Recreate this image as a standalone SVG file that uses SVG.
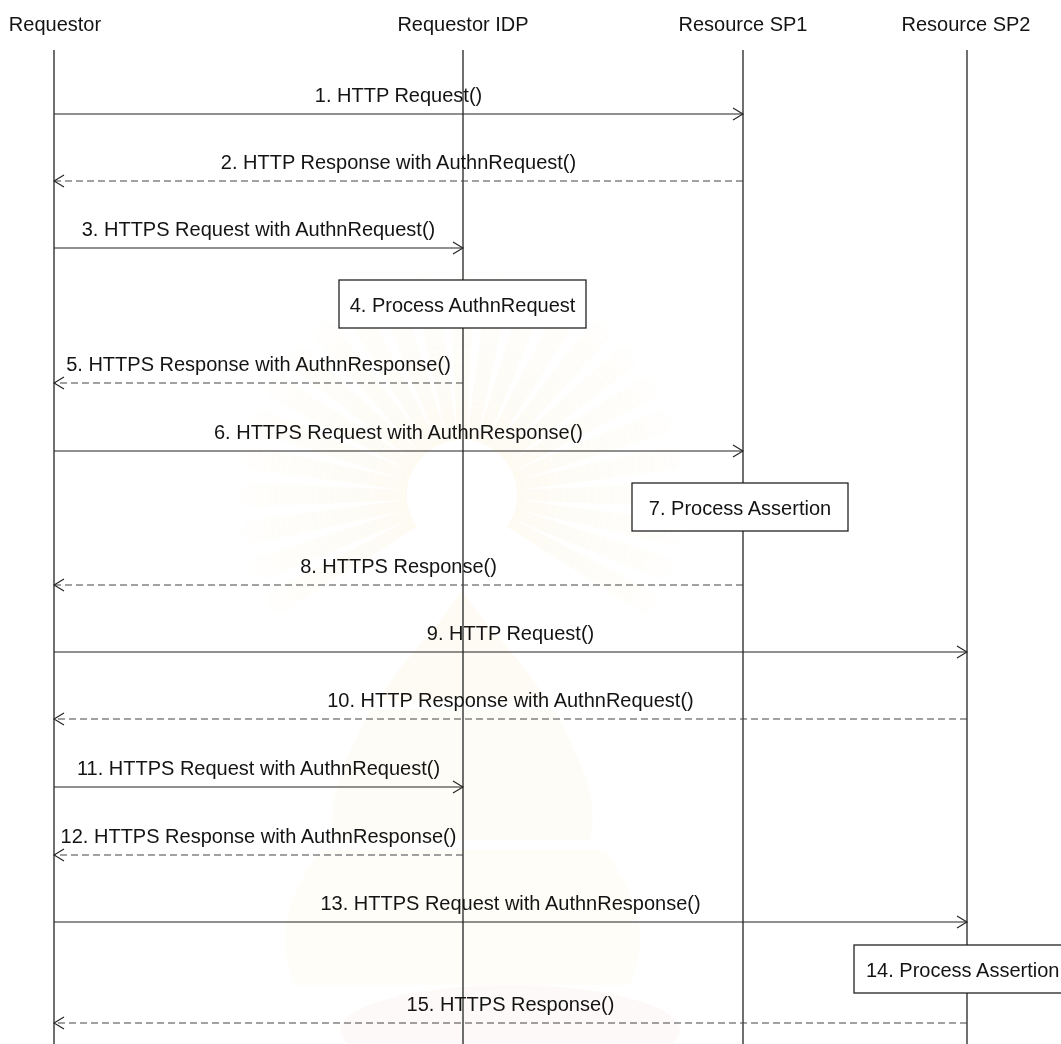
<svg xmlns="http://www.w3.org/2000/svg" xmlns:xlink="http://www.w3.org/1999/xlink" width="1061" height="1044" viewBox="0 0 1061 1044">
  <style>
    text { font-family: "Liberation Sans", Arial, sans-serif; font-size: 20px; fill: #141414; }
    .title { text-anchor: middle; }
    .msg { text-anchor: middle; }
    .lifeline { stroke: #222; stroke-width: 1.3; fill: none; }
    .call { stroke: #222; stroke-width: 1.2; fill: none; marker-end: url(#open); }
    .reply { stroke: #444; stroke-width: 1.2; fill: none; stroke-dasharray: 7 4; marker-end: url(#open); }
    .box rect { fill: #fff; stroke: #222; stroke-width: 1.3; }
    .ray { fill: url(#rayFill); }
  </style>
  <defs>
    <marker id="open" viewBox="0 0 12 14" refX="11" refY="7" markerWidth="12" markerHeight="14" markerUnits="userSpaceOnUse" orient="auto">
      <path d="M1,1 L11,7 L1,13" fill="none" stroke="#222" stroke-width="1.2"/>
    </marker>
    <linearGradient id="rayFill" x1="0" y1="1" x2="0" y2="0">
      <stop offset="0" stop-color="#f3e4b0" stop-opacity="0.55"/>
      <stop offset="1" stop-color="#f8efd2" stop-opacity="0.2"/>
    </linearGradient>
    <path id="ray" d="M-5,-55 L-12,-215 Q0,-232 12,-215 L5,-55 Z"/>
  </defs>

  <rect width="1061" height="1044" fill="#fff"/>

  <!-- faint emblem watermark behind the chart -->
  <g id="watermark" opacity="0.3">
    <g class="ray" transform="translate(462,495)">
      <use xlink:href="#ray" transform="rotate(-120)"/>
      <use xlink:href="#ray" transform="rotate(-110)"/>
      <use xlink:href="#ray" transform="rotate(-100)"/>
      <use xlink:href="#ray" transform="rotate(-90)"/>
      <use xlink:href="#ray" transform="rotate(-80)"/>
      <use xlink:href="#ray" transform="rotate(-70)"/>
      <use xlink:href="#ray" transform="rotate(-60)"/>
      <use xlink:href="#ray" transform="rotate(-50)"/>
      <use xlink:href="#ray" transform="rotate(-40)"/>
      <use xlink:href="#ray" transform="rotate(-30)"/>
      <use xlink:href="#ray" transform="rotate(-20)"/>
      <use xlink:href="#ray" transform="rotate(-10)"/>
      <use xlink:href="#ray" transform="rotate(0)"/>
      <use xlink:href="#ray" transform="rotate(10)"/>
      <use xlink:href="#ray" transform="rotate(20)"/>
      <use xlink:href="#ray" transform="rotate(30)"/>
      <use xlink:href="#ray" transform="rotate(40)"/>
      <use xlink:href="#ray" transform="rotate(50)"/>
      <use xlink:href="#ray" transform="rotate(60)"/>
      <use xlink:href="#ray" transform="rotate(70)"/>
      <use xlink:href="#ray" transform="rotate(80)"/>
      <use xlink:href="#ray" transform="rotate(90)"/>
      <use xlink:href="#ray" transform="rotate(100)"/>
      <use xlink:href="#ray" transform="rotate(110)"/>
      <use xlink:href="#ray" transform="rotate(120)"/>
    </g>
    <!-- tiered crown body -->
    <path d="M462,590 C430,640 400,660 380,700 L545,700 C525,660 495,640 462,590 Z" fill="#f6ecc6" opacity="0.6"/>
    <path d="M370,710 L555,710 C580,760 600,800 590,840 L335,840 C325,800 345,760 370,710 Z" fill="#f6ecc6" opacity="0.45"/>
    <path d="M320,850 L605,850 C640,900 650,940 630,985 L295,985 C275,940 285,900 320,850 Z" fill="#f6ecc6" opacity="0.4"/>
    <ellipse cx="510" cy="1030" rx="170" ry="45" fill="#f8e3e0" opacity="0.6"/>
  </g>

  <!-- participant headers and lifelines -->
  <g id="requestor">
    <text class="title" x="55" y="31">Requestor</text>
    <line class="lifeline" x1="54" y1="50" x2="54" y2="1044"/>
  </g>
  <g id="requestor-idp">
    <text class="title" x="463" y="31">Requestor IDP</text>
    <line class="lifeline" x1="463" y1="50" x2="463" y2="1044" stroke="#333"/>
  </g>
  <g id="resource-sp1">
    <text class="title" x="743" y="31">Resource SP1</text>
    <line class="lifeline" x1="743" y1="50" x2="743" y2="1044"/>
  </g>
  <g id="resource-sp2">
    <text class="title" x="966" y="31">Resource SP2</text>
    <line class="lifeline" x1="967" y1="50" x2="967" y2="1044"/>
  </g>

  <!-- messages -->
  <g id="connectors">
    <line class="call" x1="54" y1="114" x2="743" y2="114"/>
    <text class="msg" x="398.5" y="102">1. HTTP Request()</text>

    <line class="reply" x1="743" y1="181" x2="54" y2="181"/>
    <text class="msg" x="398.5" y="169">2. HTTP Response with AuthnRequest()</text>

    <line class="call" x1="54" y1="248" x2="463" y2="248"/>
    <text class="msg" x="258.5" y="236">3. HTTPS Request with AuthnRequest()</text>

    <line class="reply" x1="463" y1="383" x2="54" y2="383"/>
    <text class="msg" x="258.5" y="371">5. HTTPS Response with AuthnResponse()</text>

    <line class="call" x1="54" y1="451" x2="743" y2="451"/>
    <text class="msg" x="398.5" y="439">6. HTTPS Request with AuthnResponse()</text>

    <line class="reply" x1="743" y1="585" x2="54" y2="585"/>
    <text class="msg" x="398.5" y="573">8. HTTPS Response()</text>

    <line class="call" x1="54" y1="652" x2="967" y2="652"/>
    <text class="msg" x="510.5" y="640">9. HTTP Request()</text>

    <line class="reply" x1="967" y1="719" x2="54" y2="719"/>
    <text class="msg" x="510.5" y="707">10. HTTP Response with AuthnRequest()</text>

    <line class="call" x1="54" y1="787" x2="463" y2="787"/>
    <text class="msg" x="258.5" y="775">11. HTTPS Request with AuthnRequest()</text>

    <line class="reply" x1="463" y1="855" x2="54" y2="855"/>
    <text class="msg" x="258.5" y="843">12. HTTPS Response with AuthnResponse()</text>

    <line class="call" x1="54" y1="922" x2="967" y2="922"/>
    <text class="msg" x="510.5" y="910">13. HTTPS Request with AuthnResponse()</text>

    <line class="reply" x1="967" y1="1023" x2="54" y2="1023"/>
    <text class="msg" x="510.5" y="1011">15. HTTPS Response()</text>
  </g>

  <!-- local processing steps -->
  <g id="step4" class="box">
    <rect x="339" y="280" width="247" height="48"/>
    <text x="462.5" y="311.5" text-anchor="middle">4. Process AuthnRequest</text>
  </g>
  <g id="step7" class="box">
    <rect x="632" y="483" width="216" height="48"/>
    <text x="740" y="514.5" text-anchor="middle">7. Process Assertion</text>
  </g>
  <g id="step14" class="box">
    <rect x="854" y="945" width="222" height="48"/>
    <text x="866" y="976.5">14. Process Assertion</text>
  </g>
</svg>
